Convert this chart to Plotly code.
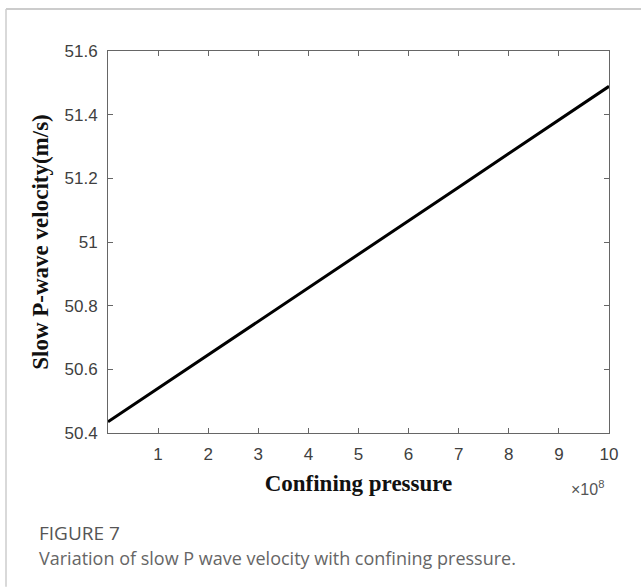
import plotly.graph_objects as go

# Data
pressure_pa = [0, 1e8, 2e8, 3e8, 4e8, 5e8, 6e8, 7e8, 8e8, 9e8, 1e9]
slow_p_velocity = [50.435, 50.540, 50.645, 50.751, 50.856, 50.962,
                   51.067, 51.172, 51.278, 51.383, 51.489]
x_tick_vals = [1e8, 2e8, 3e8, 4e8, 5e8, 6e8, 7e8, 8e8, 9e8, 1e9]
x_tick_text = ["1", "2", "3", "4", "5", "6", "7", "8", "9", "10"]
y_tick_vals = [50.4, 50.6, 50.8, 51.0, 51.2, 51.4, 51.6]
y_tick_text = ["50.4", "50.6", "50.8", "51", "51.2", "51.4", "51.6"]

W, H = 641, 587
L, R, T, B = 108, 32, 50.5, 154
pw, ph = W - L - R, H - T - B

def px(x):
    return (x - L) / pw

def py(y):
    return (H - B - y) / ph

fig = go.Figure()
fig.add_trace(go.Scatter(x=pressure_pa, y=slow_p_velocity, mode="lines",
                         line=dict(color="black", width=3), showlegend=False,
                         cliponaxis=False))

axis_common = dict(showgrid=False, zeroline=False, showline=True, linecolor="#666666",
                   linewidth=1, mirror="ticks", ticks="inside", ticklen=5,
                   tickcolor="#666666",
                   tickfont=dict(family="Liberation Sans, Arial", size=17, color="#404040"))

fig.update_layout(
    width=W, height=H,
    margin=dict(l=L, r=R, t=T, b=B, autoexpand=False),
    paper_bgcolor="white", plot_bgcolor="white",
    xaxis=dict(range=[0, 1e9], tickvals=x_tick_vals, ticktext=x_tick_text,
               ticklabelstandoff=6,
               title=dict(text="<b>Confining pressure</b>",
                          font=dict(family="Liberation Serif, Times New Roman", size=23, color="#111111"),
                          standoff=11),
               **axis_common),
    yaxis=dict(range=[50.4, 51.6], tickvals=y_tick_vals, ticktext=y_tick_text,
               ticklabelstandoff=6,
               title=dict(text="<b>Slow P-wave velocity(m/s)</b>",
                          font=dict(family="Liberation Serif, Times New Roman", size=23, color="#111111"),
                          standoff=9),
               **axis_common),
)

# x10^8 multiplier
fig.add_annotation(x=px(606), y=py(488), xref="paper", yref="paper", xanchor="right",
                   yanchor="middle", showarrow=False,
                   text="\u00d710<sup>8</sup>",
                   font=dict(family="Liberation Sans, Arial", size=16, color="#555555"))

# Caption
fig.add_annotation(x=px(37), y=py(533), xref="paper", yref="paper", xanchor="left",
                   yanchor="middle", showarrow=False, text="FIGURE 7",
                   font=dict(family="Open Sans", size=19, color="#555555"))
fig.add_annotation(x=px(37), y=py(558), xref="paper", yref="paper", xanchor="left",
                   yanchor="middle", showarrow=False,
                   text="Variation of slow P wave velocity with confining pressure.",
                   font=dict(family="Open Sans", size=18, color="#666666"))

# Card border (top and left)
fig.add_shape(type="line", xref="paper", yref="paper", x0=px(6), x1=px(641),
              y0=py(8.5), y1=py(8.5), line=dict(color="#cccccc", width=2))
fig.add_shape(type="line", xref="paper", yref="paper", x0=px(6), x1=px(6),
              y0=py(8.5), y1=py(587), line=dict(color="#cccccc", width=1.5))

fig.write_html("out.html")
